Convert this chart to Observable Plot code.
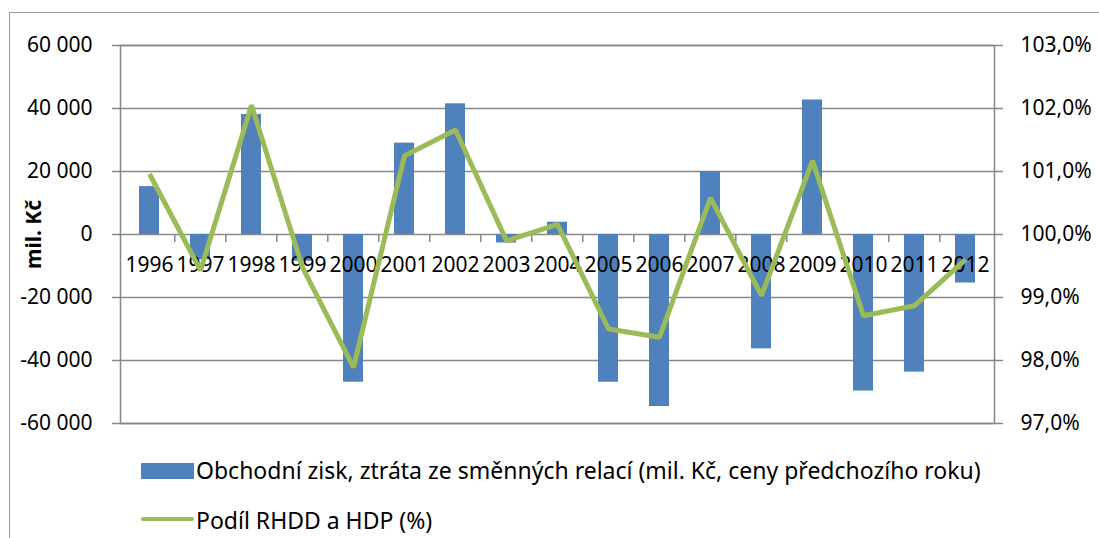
<!DOCTYPE html>
<html>
<head>
<meta charset="utf-8">
<script src="https://cdn.jsdelivr.net/npm/d3@7"></script>
<script src="https://cdn.jsdelivr.net/npm/@observablehq/plot@0.6"></script>
<style>
  html, body { margin: 0; padding: 0; background: white; }
  #wrap { position: relative; width: 1099px; height: 538px; overflow: hidden; font-family: "Noto Sans", sans-serif; }
  #frame { position: absolute; left: 9px; top: 12px; width: 1200px; height: 600px; border-left: 1.5px solid #9a9a9a; border-top: 1.5px solid #9a9a9a; }
  #chart { position: absolute; left: 0; top: 0; }
  .leg { position: absolute; font-size: 23px; line-height: 30px; color: #000; white-space: nowrap; }
  .sw { position: absolute; }
</style>
</head>
<body>
<div id="wrap">
  <div id="frame"></div>
  <div id="chart"></div>
  <div class="sw" style="left:141px; top:463px; width:53px; height:16px; background:#4F81BD;"></div>
  <div class="leg" style="left:196px; top:455px;">Obchodní zisk, ztráta ze směnných relací (mil. Kč, ceny předchozího roku)</div>
  <div class="sw" style="left:141px; top:517px; width:53px; height:4px; background:#9BBB59; border-radius:2px;"></div>
  <div class="leg" style="left:196px; top:505px;">Podíl RHDD a HDP (%)</div>
</div>
<script>
const years = [1996, 1997, 1998, 1999, 2000, 2001, 2002, 2003, 2004, 2005, 2006, 2007, 2008, 2009, 2010, 2011, 2012];
const gains = [15200, -8000, 38100, -8500, -46900, 29000, 41500, -2700, 3900, -46900, -54600, 20000, -36300, 42700, -49700, -43700, -15400];
const shares = [100.96, 99.43, 102.05, 99.48, 97.89, 101.25, 101.66, 99.90, 100.16, 98.50, 98.37, 100.58, 99.03, 101.17, 98.71, 98.87, 99.60];
const leftTicks = [-60000, -40000, -20000, 0, 20000, 40000, 60000];
// right axis: 97,0 % .. 103,0 %, centred on 100 % at 0 of the left axis
const rightBase = 100;
const rightUnit = 20000; // one percentage point on the right axis equals 20 000 on the left

const rows = years.map((year, i) => ({year, gain: gains[i], share: shares[i]}));

const fmtLeft = v => (v < 0 ? "-" : "") + String(Math.abs(v)).replace(/\B(?=(\d{3})+(?!\d))/g, " ");
const fmtRight = v => (rightBase + v / rightUnit).toFixed(1).replace(".", ",") + "%";

const W = 1099, H = 445;
const mL = 120, mR = 105, mT = 45, mB = 22;
const step = (W - mL - mR) / years.length;
const grey = "#878787";

const chart = Plot.plot({
  width: W,
  height: H,
  marginLeft: mL,
  marginRight: mR,
  marginTop: mT,
  marginBottom: mB,
  style: {fontFamily: "Noto Sans", fontSize: "21px", background: "transparent", color: "black", overflow: "visible"},
  x: {type: "band", domain: years, paddingInner: 0.6, paddingOuter: 0.3, axis: null},
  y: {domain: [-60000, 60000], axis: null},
  marks: [
    Plot.gridY(leftTicks, {stroke: grey, strokeOpacity: 1, strokeWidth: 1.5}),
    Plot.frame({stroke: grey, strokeWidth: 1.5}),
    Plot.axisY(leftTicks, {anchor: "left", tickSize: 8, tickPadding: 20, tickFormat: fmtLeft, stroke: grey, strokeWidth: 1.5, fill: "black", label: null, fontSize: 21}),
    Plot.axisY(leftTicks, {anchor: "right", tickSize: 8, tickPadding: 18, tickFormat: fmtRight, stroke: grey, strokeWidth: 1.5, fill: "black", label: null, fontSize: 21}),
    Plot.ruleX(years.slice(1), {x: d => d, y1: () => 0, y2: () => 0, dx: -step / 2, insetBottom: -8, stroke: grey, strokeWidth: 1.5}),
    Plot.barY(rows, {x: "year", y: "gain", fill: "#4F81BD"}),
    Plot.text(rows, {x: "year", y: () => 0, text: d => String(d.year), dy: 31, fill: "black", fontSize: 21}),
    Plot.line(rows, {x: "year", y: d => (d.share - rightBase) * rightUnit, stroke: "#9BBB59", strokeWidth: 5, strokeLinejoin: "miter", strokeLinecap: "butt"}),
    Plot.text(["mil. Kč"], {frameAnchor: "left", dx: -86, rotate: -90, textAnchor: "middle", text: d => d, fontWeight: "bold", fontSize: 21, fill: "black"})
  ]
});
document.getElementById("chart").appendChild(chart);
</script>
</body>
</html>
